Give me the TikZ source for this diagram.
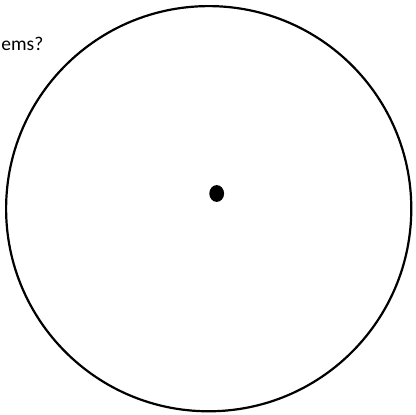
\documentclass[tikz,border=0pt]{standalone}
\usepackage{fontspec}
\setmainfont{Carlito}
\begin{document}
\begin{tikzpicture}[x=1pt,y=-1pt]
\useasboundingbox (0,0) rectangle (416,415);
\draw[line width=2.2pt] (208.7,208.7) circle (202.6);
\fill (216.7,193.5) ellipse (7.4 and 8.4);
\node[anchor=base east,inner sep=0pt,font=\fontsize{19.5}{22}\selectfont] (question) at (43.5,50.5) {ems?};
\end{tikzpicture}
\end{document}
